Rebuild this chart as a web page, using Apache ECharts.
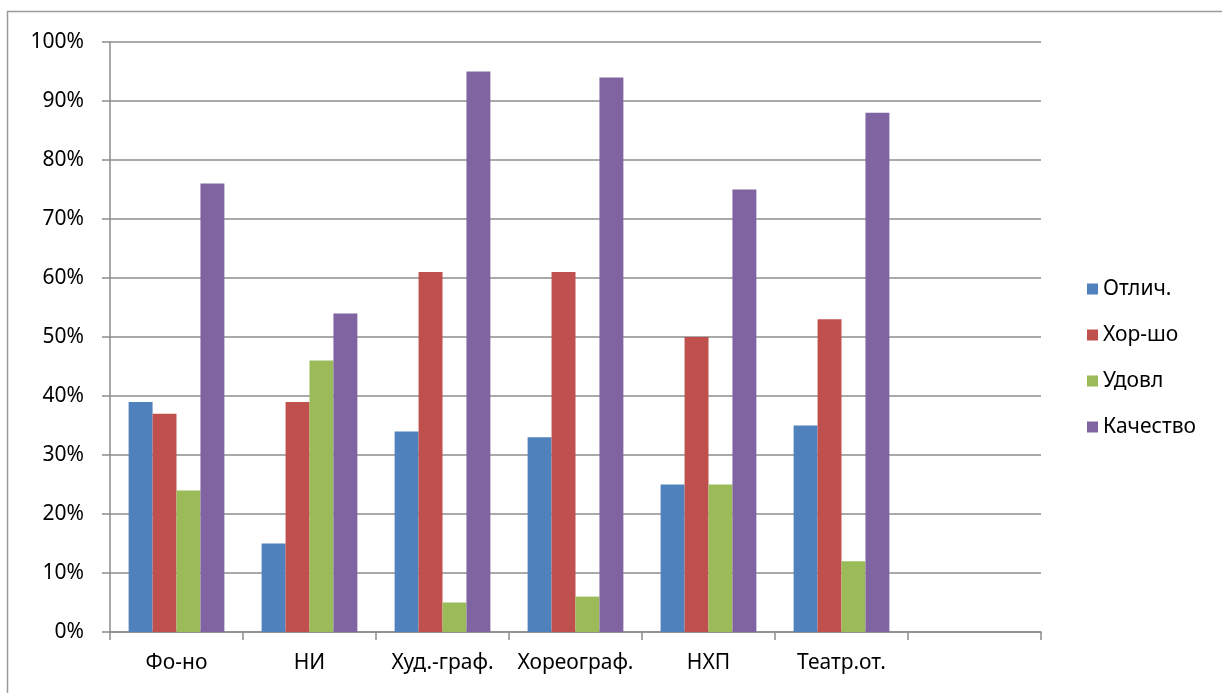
<!DOCTYPE html>
<html><head><meta charset="utf-8">
<script src="https://cdn.jsdelivr.net/npm/echarts@6/dist/echarts.min.js"></script>
<style>html,body{margin:0;padding:0;background:#fff}#c{width:1222px;height:693px}</style>
</head><body><div id="c"></div>
<script>
const categories = ['Фо-но', 'НИ', 'Худ.-граф.', 'Хореограф.', 'НХП', 'Театр.от.', ''];
const otlich = [39, 15, 34, 33, 25, 35, null];
const khorosho = [37, 39, 61, 61, 50, 53, null];
const udovl = [24, 46, 5, 6, 25, 12, null];
const kachestvo = [76, 54, 95, 94, 75, 88, null];
const seriesNames = ['Отлич.', 'Хор-шо', 'Удовл', 'Качество'];
const colors = ['#4F81BD', '#C0504D', '#9BBB59', '#8064A2'];
const yTicks = [0, 10, 20, 30, 40, 50, 60, 70, 80, 90, 100];

const font = 'Noto Sans';
const chart = echarts.init(document.getElementById('c'));
const dataSets = [otlich, khorosho, udovl, kachestvo];
chart.setOption({
  animation: false,
  color: colors,
  graphic: [{type: 'rect', shape: {x: 7.5, y: 11.5, width: 1300, height: 800}, style: {fill: 'none', stroke: '#9a9a9a', lineWidth: 1.5}}],
  legend: {
    orient: 'vertical', left: 1082, top: 269, itemWidth: 11, itemHeight: 11, itemGap: 16,
    icon: 'rect',
    textStyle: {fontFamily: font, fontSize: 21, color: '#000', lineHeight: 30},
    data: seriesNames
  },
  grid: {left: 110, right: 181, top: 42, bottom: 61},
  xAxis: {
    type: 'category', data: categories,
    axisLine: {lineStyle: {color: '#8c8c8c', width: 1.5}},
    axisTick: {show: true, length: 8, alignWithLabel: false, lineStyle: {color: '#8c8c8c', width: 1.5}},
    axisLabel: {fontFamily: font, fontSize: 21, color: '#000', margin: 21, interval: 0}
  },
  yAxis: {
    type: 'value', min: 0, max: 100, interval: 10,
    axisLine: {show: true, lineStyle: {color: '#8c8c8c', width: 1.5}},
    axisTick: {show: true, length: 8, lineStyle: {color: '#8c8c8c', width: 1.5}},
    splitLine: {lineStyle: {color: '#8c8c8c', width: 1.5}},
    axisLabel: {fontFamily: font, fontSize: 21, color: '#000', margin: 26,
      formatter: v => yTicks.includes(v) ? v + '%' : ''}
  },
  series: seriesNames.map((n, i) => ({
    name: n, type: 'bar', data: dataSets[i], barGap: '0%', barCategoryGap: '28%',
    itemStyle: {color: colors[i]}
  }))
});
</script></body></html>
